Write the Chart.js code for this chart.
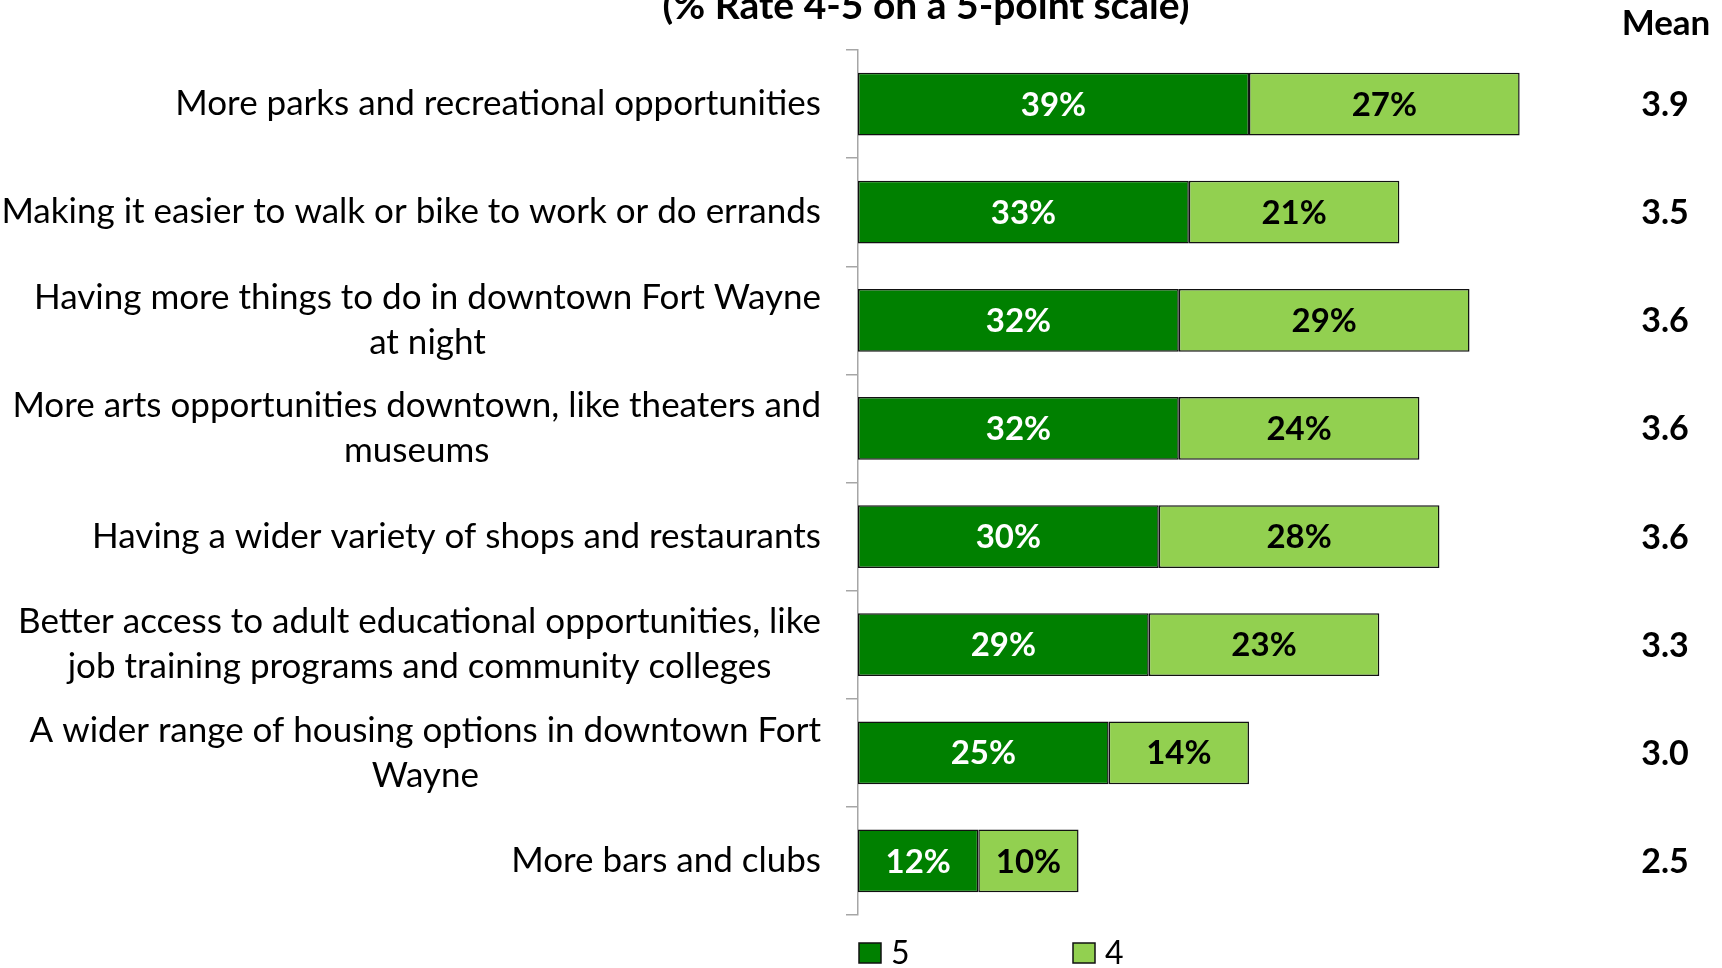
<!DOCTYPE html>
<html>
<head>
<meta charset="utf-8">
<script src="https://cdn.jsdelivr.net/npm/chart.js@4.4.0/dist/chart.umd.min.js"></script>
<style>
  body { margin: 0; background: #fff; }
  #wrap { width: 1722px; height: 968px; }
</style>
</head>
<body>
<div id="wrap"><canvas id="chart" width="1722" height="968"></canvas></div>
<script>
// Data
const categories = [
    'More parks and recreational opportunities',
    'Making it easier to walk or bike to work or do errands',
    ['Having more things to do in downtown Fort Wayne', 'at night'],
    ['More arts opportunities downtown, like theaters and', 'museums'],
    'Having a wider variety of shops and restaurants',
    ['Better access to adult educational opportunities, like', 'job training programs and community colleges'],
    ['A wider range of housing options in downtown Fort', 'Wayne'],
    'More bars and clubs'
];
const rate5 = [39, 33, 32, 32, 30, 29, 25, 12];
const rate4 = [27, 21, 29, 24, 28, 23, 14, 10];
const means = ['3.9', '3.5', '3.6', '3.6', '3.6', '3.3', '3.0', '2.5'];
const seriesNames = ['5', '4'];
const titleText = '(% Rate 4-5 on a 5-point scale)';

const FONT = 'Lato, "Open Sans", sans-serif';

// category labels: block right-aligned, lines centred inside the block
const categoryLabels = {
    id: 'categoryLabels',
    afterDraw(chart) {
        const ctx = chart.ctx;
        const y = chart.scales.y;
        const right = chart.chartArea.left - 37;
        ctx.save();
        ctx.font = '35px ' + FONT;
        ctx.fillStyle = '#000';
        ctx.textAlign = 'center';
        ctx.textBaseline = 'middle';
        categories.forEach((lab, i) => {
            const lines = Array.isArray(lab) ? lab : [lab];
            const w = Math.max(...lines.map(l => ctx.measureText(l).width));
            const cy = y.getPixelForValue(i);
            lines.forEach((l, k) => {
                ctx.fillText(l, right - w / 2, cy + (k - (lines.length - 1) / 2) * 45);
            });
        });
        ctx.restore();
    }
};

// percentages inside bars, means column, title, legend
const extras = {
    id: 'extras',
    afterDatasetsDraw(chart) {
        const ctx = chart.ctx;
        ctx.save();
        ctx.font = 'bold 33px ' + FONT;
        ctx.textAlign = 'center';
        ctx.textBaseline = 'middle';
        chart.data.datasets.forEach((ds, i) => {
            chart.getDatasetMeta(i).data.forEach((bar, j) => {
                const p = bar.getCenterPoint();
                ctx.fillStyle = ds.labelColor;
                ctx.fillText(ds.data[j] + '%', p.x, p.y + 1);
            });
        });
        ctx.restore();
    },
    afterDraw(chart) {
        const ctx = chart.ctx;
        const y = chart.scales.y;
        ctx.save();
        ctx.fillStyle = '#000';
        ctx.textAlign = 'center';

        ctx.font = 'bold 39px ' + FONT;
        ctx.textBaseline = 'alphabetic';
        ctx.fillText(titleText, 926, 19);

        ctx.font = 'bold 35px ' + FONT;
        ctx.fillText('Mean', 1666, 35);
        ctx.font = 'bold 34px ' + FONT;
        ctx.textBaseline = 'middle';
        means.forEach((m, i) => ctx.fillText(m, 1665, y.getPixelForValue(i) + 1));

        // legend
        const x0 = chart.chartArea.left + 1;
        ctx.font = '32px ' + FONT;
        ctx.textAlign = 'left';
        chart.data.datasets.forEach((ds, i) => {
            const bx = x0 + i * 214;
            ctx.fillStyle = ds.backgroundColor;
            ctx.fillRect(bx, 943, 22, 20);
            ctx.strokeStyle = '#111';
            ctx.lineWidth = 1.5;
            ctx.strokeRect(bx, 943, 22, 20);
            ctx.fillStyle = '#000';
            ctx.fillText(ds.label, bx + 32, 954);
        });
        ctx.restore();
    }
};

new Chart(document.getElementById('chart'), {
    type: 'bar',
    data: {
        labels: categories,
        datasets: [
            { label: seriesNames[0], data: rate5, backgroundColor: '#008000', labelColor: '#fff' },
            { label: seriesNames[1], data: rate4, backgroundColor: '#92d050', labelColor: '#000' }
        ]
    },
    options: {
        indexAxis: 'y',
        responsive: false,
        animation: false,
        layout: { padding: { top: 50, bottom: 53, right: 62, left: 0 } },
        datasets: {
            bar: {
                barPercentage: 0.58,
                categoryPercentage: 1,
                borderColor: '#111',
                borderWidth: 1.5,
                borderSkipped: false
            }
        },
        plugins: {
            legend: { display: false },
            tooltip: { enabled: false }
        },
        scales: {
            x: { stacked: true, display: false, min: 0, max: 80 },
            y: {
                stacked: true,
                grid: { offset: true, drawOnChartArea: false, tickLength: 12, color: '#a6a6a6', lineWidth: 1.5 },
                border: { color: '#a6a6a6', width: 1.5 },
                ticks: { display: false },
                afterFit: s => { s.width = 858; }
            }
        }
    },
    plugins: [categoryLabels, extras]
});
</script>
</body>
</html>
